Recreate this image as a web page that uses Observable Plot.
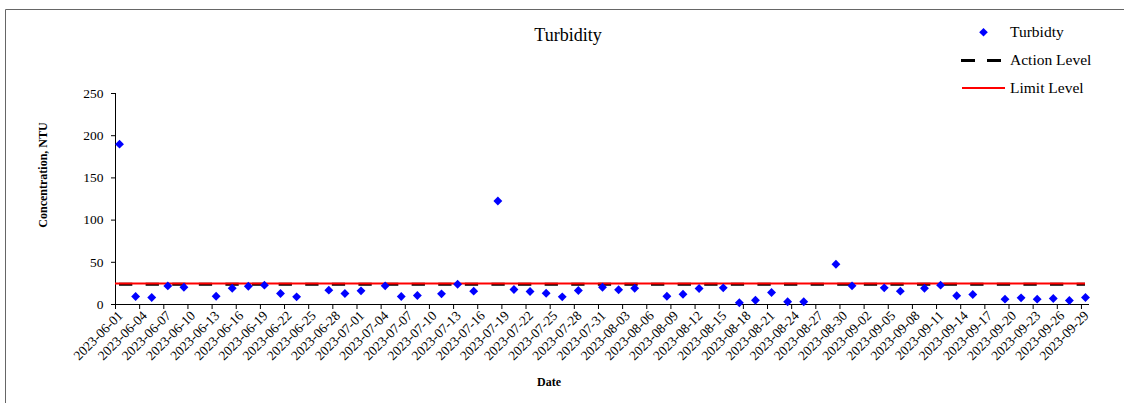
<!DOCTYPE html>
<html>
<head>
<meta charset="utf-8">
<script src="https://cdn.jsdelivr.net/npm/d3@7"></script>
<script src="https://cdn.jsdelivr.net/npm/@observablehq/plot@0.6"></script>
<style>
  html, body { margin: 0; padding: 0; background: #fff; }
  #chart svg { display: block; }
</style>
</head>
<body>
<div id="chart"></div>
<script>
// ---- data ----
const sampleDates = [
  "2023-06-01","2023-06-03","2023-06-05","2023-06-07","2023-06-09","2023-06-13",
  "2023-06-15","2023-06-17","2023-06-19","2023-06-21","2023-06-23","2023-06-27",
  "2023-06-29","2023-07-01","2023-07-04","2023-07-06","2023-07-08","2023-07-11",
  "2023-07-13","2023-07-15","2023-07-18","2023-07-20","2023-07-22","2023-07-24",
  "2023-07-26","2023-07-28","2023-07-31","2023-08-02","2023-08-04","2023-08-08",
  "2023-08-10","2023-08-12","2023-08-15","2023-08-17","2023-08-19","2023-08-21",
  "2023-08-23","2023-08-25","2023-08-29","2023-08-31","2023-09-04","2023-09-06",
  "2023-09-09","2023-09-11","2023-09-13","2023-09-15","2023-09-19","2023-09-21",
  "2023-09-23","2023-09-25","2023-09-27","2023-09-29"
];
const turbidity = [
  190, 9.5, 8.3, 22, 20.5, 9.8,
  19.3, 21.7, 22.9, 13, 9.1, 17,
  13, 16.2, 22.1, 9.5, 10.7, 12.6,
  24, 15.8, 122.7, 17.8, 15.4, 13.4,
  9.1, 16.6, 20.5, 17.4, 19.3, 9.8,
  12.2, 18.9, 19.7, 2, 5.1, 14.2,
  3.2, 3.2, 47.7, 22.1, 19.7, 15.8,
  19.3, 22.9, 10.3, 11.8, 6.3, 7.9,
  6.3, 7.1, 4.7, 8.3
];
const actionLevel = 24;
const limitLevel = 25;
const tickLabels = [
  "2023-06-01","2023-06-04","2023-06-07","2023-06-10","2023-06-13","2023-06-16",
  "2023-06-19","2023-06-22","2023-06-25","2023-06-28","2023-07-01","2023-07-04",
  "2023-07-07","2023-07-10","2023-07-13","2023-07-16","2023-07-19","2023-07-22",
  "2023-07-25","2023-07-28","2023-07-31","2023-08-03","2023-08-06","2023-08-09",
  "2023-08-12","2023-08-15","2023-08-18","2023-08-21","2023-08-24","2023-08-27",
  "2023-08-30","2023-09-02","2023-09-05","2023-09-08","2023-09-11","2023-09-14",
  "2023-09-17","2023-09-20","2023-09-23","2023-09-26","2023-09-29"
];
const yTicks = [0, 50, 100, 150, 200, 250];
const xDomain = ["2023-06-01", "2023-09-30"];

// ---- helpers ----
const HALF_DAY = 12 * 3600 * 1000;
const day = s => new Date(s + "T00:00:00Z");
const mid = s => new Date(day(s).getTime() + HALF_DAY);

const points = sampleDates.map((d, i) => ({date: mid(d), value: turbidity[i]}));
const tickDates = tickLabels.map(day);
const firstMid = mid(sampleDates[0]);
const lastMid = mid(sampleDates[sampleDates.length - 1]);

const W = 1124, H = 403;
const serif = "'Liberation Serif', 'Times New Roman', serif";

const svg = Plot.plot({
  width: W,
  height: H,
  marginLeft: 115,
  marginRight: 35,
  marginTop: 93,
  marginBottom: 99,
  style: {fontFamily: serif, fontSize: "13px", color: "#000", background: "#fff", overflow: "visible"},
  x: {type: "utc", domain: xDomain.map(day), axis: null},
  y: {domain: [0, 250], axis: null},
  marks: [
    Plot.ruleX([day(xDomain[0])], {stroke: "#000", strokeWidth: 1}),
    Plot.ruleY([0], {stroke: "#000", strokeWidth: 1}),
    Plot.axisY({ticks: yTicks, tickSize: 4, tickPadding: 8, label: null, fontSize: 13.5, stroke: "#000"}),
    Plot.axisX({ticks: tickDates, tickSize: 5, tickFormat: () => "", label: null, stroke: "#000"}),
    Plot.text(tickLabels, {
      x: d => mid(d),
      frameAnchor: "bottom",
      text: d => d,
      rotate: -45,
      textAnchor: "end",
      lineAnchor: "middle",
      dy: 9,
      dx: 1,
      fontSize: 13.5,
      fill: "#000"
    }),
    Plot.ruleY([actionLevel], {x1: firstMid, x2: lastMid, stroke: "#000", strokeWidth: 3, strokeDasharray: "13.3,13.3"}),
    Plot.ruleY([limitLevel], {x1: day(xDomain[0]), x2: lastMid, stroke: "#ff0000", strokeWidth: 2}),
    Plot.dot(points, {x: "date", y: "value", symbol: "diamond2", r: 4, fill: "#0000ff", stroke: "none"})
  ]
});

const s = d3.select(svg);
// border
s.append("path").attr("d", `M5.5,${H} V9.5 H${W}`).attr("fill", "none").attr("stroke", "#666").attr("stroke-width", 1);
// title
s.append("text").attr("x", 568).attr("y", 41).attr("text-anchor", "middle")
  .attr("font-family", serif).attr("font-size", 18).text("Turbidity");
// axis titles
s.append("text").attr("transform", "translate(47,175) rotate(-90)").attr("text-anchor", "middle")
  .attr("font-family", serif).attr("font-size", 12).attr("font-weight", "bold").text("Concentration, NTU");
s.append("text").attr("x", 549).attr("y", 386).attr("text-anchor", "middle")
  .attr("font-family", serif).attr("font-size", 12).attr("font-weight", "bold").text("Date");
// legend
const lg = s.append("g").attr("font-family", serif).attr("font-size", 15.5).attr("text-anchor", "start");
lg.append("path").attr("d", "M983.5,28 L987.8,32.3 L983.5,36.6 L979.2,32.3 Z").attr("fill", "#0000ff");
lg.append("text").attr("x", 1010).attr("y", 37).attr("text-anchor", "start").text("Turbidty");
lg.append("line").attr("x1", 961).attr("x2", 1002).attr("y1", 60.5).attr("y2", 60.5)
  .attr("stroke", "#000").attr("stroke-width", 3).attr("stroke-dasharray", "14,12");
lg.append("text").attr("x", 1010).attr("y", 65).attr("text-anchor", "start").text("Action Level");
lg.append("line").attr("x1", 962).attr("x2", 1005).attr("y1", 88).attr("y2", 88)
  .attr("stroke", "#ff0000").attr("stroke-width", 2);
lg.append("text").attr("x", 1010).attr("y", 93).attr("text-anchor", "start").text("Limit Level");

document.getElementById("chart").appendChild(svg);
</script>
</body>
</html>
